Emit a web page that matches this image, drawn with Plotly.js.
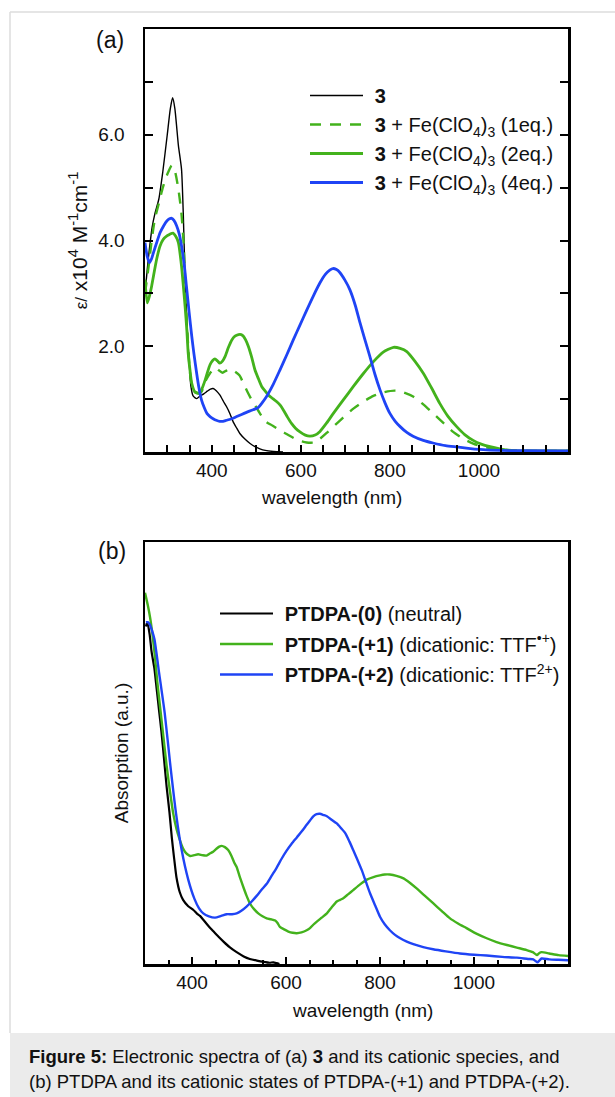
<!DOCTYPE html>
<html>
<head>
<meta charset="utf-8">
<script src="https://cdn.plot.ly/plotly-3.0.1.min.js"></script>
<style>html,body{margin:0;padding:0;background:#fff;}#chart{width:615px;height:1097px;}</style>
</head>
<body>
<div id="chart"></div>
<script>
// ---------- Panel (a): compound 3 and Fe(ClO4)3 titration, epsilon / 10^4 M^-1 cm^-1 ----------
const a_black_x = [250,255,260,266,272,281,290,300,307,312,317,325,332,336,340,344,347,350,353,358,366,374,382,390,397,403,410,418,426,433,441,448,456,463,475,486,497,508,520,538,560];
const a_black_y = [3.0,3.45,3.85,4.25,4.5,4.78,5.3,6.0,6.5,6.7,6.5,5.8,5.35,4.5,3.3,2.5,2.0,1.6,1.25,1.06,1.01,1.06,1.10,1.15,1.19,1.20,1.16,1.08,0.96,0.86,0.72,0.57,0.45,0.35,0.24,0.16,0.10,0.06,0.03,0.01,0.0];

const a_eq1_x = [250,258,265,272,281,290,300,310,317,325,332,337,343,347,351,356,362,370,377,385,396,407,415,424,433,443,452,462,471,480,490,497,508,522,536,555,570,594,613,630,643,658,673,695,718,740,763,787,811,830,852,875,897,920,942,965,987,1010,1032,1060,1085,1120,1200];
const a_eq1_y = [3.0,3.5,4.0,4.4,4.7,5.0,5.25,5.42,5.32,4.97,4.5,3.9,2.6,2.0,1.5,1.22,1.13,1.11,1.14,1.33,1.49,1.6,1.55,1.5,1.54,1.57,1.52,1.45,1.30,1.14,0.98,0.89,0.73,0.57,0.50,0.40,0.33,0.22,0.18,0.18,0.25,0.36,0.48,0.65,0.82,0.95,1.06,1.13,1.16,1.13,1.05,0.90,0.73,0.55,0.38,0.25,0.16,0.10,0.06,0.04,0.03,0.02,0.02];

const a_eq2_x = [250,255,260,265,276,284,291,300,306,313,319,325,332,336,340,344,347,351,355,362,372,378,385,390,396,402,407,413,418,424,430,437,445,452,460,466,471,476,482,490,497,505,512,520,527,537,546,554,561,570,579,588,598,610,620,632,643,658,673,695,718,740,763,785,808,823,838,856,875,893,912,930,950,968,987,1005,1025,1047,1070,1100,1200];
const a_eq2_y = [3.26,2.82,2.95,3.14,3.64,3.9,4.02,4.09,4.12,4.14,4.08,3.96,3.52,3.15,2.76,2.3,1.87,1.55,1.30,1.14,1.11,1.2,1.36,1.5,1.65,1.73,1.76,1.72,1.68,1.72,1.81,1.97,2.12,2.19,2.22,2.22,2.19,2.12,2.0,1.78,1.55,1.38,1.24,1.15,1.08,1.01,0.95,0.88,0.79,0.66,0.54,0.45,0.38,0.32,0.30,0.32,0.39,0.55,0.73,0.98,1.24,1.48,1.71,1.89,1.98,1.96,1.90,1.72,1.49,1.22,0.92,0.68,0.48,0.33,0.22,0.15,0.10,0.06,0.03,0.02,0.02];

const a_eq4_x = [250,255,260,265,269,277,284,292,299,305,310,315,321,327,332,338,343,349,355,360,366,371,377,383,389,396,403,410,418,425,433,445,456,467,478,490,504,513,523,538,553,568,583,598,613,628,643,655,665,672,680,688,699,710,722,733,744,755,766,778,789,800,812,823,838,852,875,897,925,950,976,1002,1047,1100,1200];
const a_eq4_y = [3.96,3.7,3.58,3.66,3.77,3.98,4.15,4.28,4.37,4.41,4.42,4.38,4.28,4.12,3.90,3.55,3.14,2.65,2.19,1.85,1.49,1.22,0.98,0.84,0.73,0.67,0.63,0.60,0.58,0.58,0.60,0.63,0.67,0.71,0.75,0.79,0.84,0.93,1.05,1.28,1.55,1.83,2.12,2.40,2.68,2.95,3.20,3.36,3.44,3.47,3.45,3.39,3.25,3.07,2.78,2.44,2.12,1.81,1.48,1.17,0.93,0.73,0.58,0.48,0.37,0.30,0.22,0.17,0.12,0.095,0.07,0.05,0.03,0.025,0.02];

const a_names = ['<b>3</b>', '<b>3</b> + Fe(ClO<sub>4</sub>)<sub>3</sub> (1eq.)', '<b>3</b> + Fe(ClO<sub>4</sub>)<sub>3</sub> (2eq.)', '<b>3</b> + Fe(ClO<sub>4</sub>)<sub>3</sub> (4eq.)'];
const a_xticks = [300,350,400,450,500,550,600,650,700,750,800,850,900,950,1000,1050,1100,1150];
const a_xlabels = ['','','400','','','','600','','','','800','','','','1000','','',''];
const a_yticks = [1,2,3,4,5,6,7];
const a_ylabels = ['','2.0','','4.0','','6.0',''];
const a_xtitle = 'wavelength (nm)';
const a_ytitle = '<span style="font-size:17px">ε/</span> x10<sup>4</sup> M<sup>-1</sup>cm<sup>-1</sup>';

// ---------- Panel (b): PTDPA, absorption (a.u.) ----------
const b_neutral_x = [302,305,310,314,320,325,330,335,341,346,352,357,362,367,374,381,392,403,410,417,424,435,445,456,467,480,495,510,523,538,552,565,573,580,586];
const b_neutral_y = [0.80,0.81,0.78,0.74,0.70,0.65,0.60,0.55,0.48,0.42,0.36,0.30,0.25,0.205,0.17,0.152,0.137,0.128,0.12,0.114,0.105,0.09,0.078,0.065,0.053,0.04,0.028,0.018,0.012,0.008,0.005,0.003,0.004,0.002,0.0];

const b_plus1_x = [300,302,306,311,316,321,326,332,339,346,353,360,367,374,380,385,390,396,405,413,422,431,438,445,452,458,463,470,477,484,490,495,502,509,516,523,532,541,550,559,568,577,582,587,596,605,614,623,633,644,651,658,665,676,687,697,708,715,722,732,743,757,772,786,800,810,821,835,850,864,878,895,913,931,949,966,984,1005,1027,1048,1070,1091,1112,1125,1130,1134,1139,1144,1160,1180,1200];
const b_plus1_y = [0.88,0.87,0.85,0.82,0.78,0.73,0.67,0.61,0.54,0.47,0.41,0.357,0.32,0.294,0.276,0.266,0.26,0.256,0.258,0.26,0.258,0.257,0.262,0.266,0.273,0.278,0.28,0.277,0.27,0.256,0.24,0.23,0.205,0.183,0.162,0.144,0.13,0.12,0.113,0.108,0.106,0.103,0.097,0.088,0.082,0.077,0.074,0.073,0.075,0.08,0.085,0.093,0.10,0.11,0.12,0.134,0.148,0.152,0.156,0.165,0.175,0.188,0.20,0.206,0.21,0.212,0.212,0.209,0.203,0.192,0.179,0.162,0.144,0.126,0.108,0.096,0.085,0.072,0.061,0.052,0.045,0.039,0.033,0.028,0.024,0.021,0.026,0.028,0.025,0.021,0.019];

const b_plus2_x = [302,306,310,315,320,330,342,354,366,378,392,405,415,424,436,449,462,474,485,495,505,516,527,538,548,559,570,580,591,601,612,623,634,644,651,658,665,672,680,687,697,708,717,726,735,743,752,761,770,779,790,800,810,821,832,843,857,871,892,913,940,970,1000,1027,1060,1091,1115,1126,1131,1135,1139,1144,1160,1180,1200];
const b_plus2_y = [0.81,0.81,0.805,0.79,0.77,0.69,0.594,0.47,0.357,0.27,0.20,0.155,0.132,0.12,0.113,0.11,0.114,0.118,0.118,0.12,0.126,0.136,0.148,0.162,0.176,0.19,0.21,0.228,0.25,0.268,0.285,0.30,0.315,0.33,0.34,0.35,0.355,0.356,0.353,0.35,0.342,0.333,0.322,0.31,0.29,0.27,0.247,0.223,0.195,0.167,0.138,0.112,0.094,0.08,0.069,0.061,0.053,0.047,0.04,0.035,0.03,0.025,0.022,0.02,0.017,0.015,0.012,0.011,0.007,0.004,0.008,0.013,0.011,0.01,0.009];

const b_names = ['<b>PTDPA-(0)</b> (neutral)', '<b>PTDPA-(+1)</b> (dicationic: TTF<sup>•+</sup>)', '<b>PTDPA-(+2)</b> (dicationic: TTF<sup>2+</sup>)'];
const b_xmajor = [400,600,800,1000];
const b_xtitle = 'wavelength (nm)';
const b_ytitle = 'Absorption (a.u.)';

const captionLine1 = '<b>Figure 5:</b> Electronic spectra of (a) <b>3</b> and its cationic species, and';
const captionLine2 = '(b) PTDPA and its cationic states of PTDPA-(+1) and PTDPA-(+2).';

// ---------- styling ----------
const W = 615, H = 1097;
const px = v => v / W;
const py = v => 1 - v / H;
const FONT = 'Liberation Sans, Arial, Helvetica, sans-serif';
const BLACK = '#000000', GREEN = '#43b21c', BLUE = '#1f44f5';
const GAP = '\u2004';

const traces = [
  {x:a_black_x, y:a_black_y, name:GAP + a_names[0], line:{color:BLACK, width:1.4}, legendgroup:'a1'},
  {x:a_eq1_x, y:a_eq1_y, name:GAP + a_names[1], line:{color:GREEN, width:2.4, dash:'11px,9px'}, legendgroup:'a2'},
  {x:a_eq2_x, y:a_eq2_y, name:GAP + a_names[2], line:{color:GREEN, width:2.8}, legendgroup:'a3'},
  {x:a_eq4_x, y:a_eq4_y, name:GAP + a_names[3], line:{color:BLUE, width:2.8}, legendgroup:'a4'},
  {x:b_neutral_x, y:b_neutral_y, name:GAP + b_names[0], xaxis:'x2', yaxis:'y2', legend:'legend2', line:{color:BLACK, width:2.2}, legendgroup:'b1'},
  {x:b_plus1_x, y:b_plus1_y, name:GAP + b_names[1], xaxis:'x2', yaxis:'y2', legend:'legend2', line:{color:GREEN, width:2.4}, legendgroup:'b2'},
  {x:b_plus2_x, y:b_plus2_y, name:GAP + b_names[2], xaxis:'x2', yaxis:'y2', legend:'legend2', line:{color:BLUE, width:2.4}, legendgroup:'b3'}
].map(t => Object.assign({type:'scatter', mode:'lines', hoverinfo:'skip'}, t, {line:Object.assign({shape:'spline', smoothing:0.6}, t.line)}));

const fnt = (s) => ({family:FONT, size:s || 19, color:'#111'});
const axisCommon = () => ({
  showgrid:false, zeroline:false, showline:true, linecolor:BLACK, linewidth:2.5,
  ticks:'inside', tickcolor:BLACK, tickwidth:2, tickfont:fnt(19),
  fixedrange:true
});
const xDomain = [px(145), px(568)];

const layout = {
  width:W, height:H, margin:{l:0, r:0, t:0, b:0},
  paper_bgcolor:'#ffffff', plot_bgcolor:'#ffffff',
  font:fnt(19),
  showlegend:true,
  xaxis: Object.assign(axisCommon(), {
    domain:xDomain, anchor:'y', range:[250,1200], mirror:true,
    tickmode:'array', tickvals:a_xticks, ticktext:a_xlabels, ticklen:7
  }),
  yaxis: Object.assign(axisCommon(), {
    domain:[py(452), py(29)], anchor:'x', range:[0,8], mirror:'ticks',
    tickmode:'array', tickvals:a_yticks, ticktext:a_ylabels, ticklen:8, ticklabelstandoff:14,
    title:{text:a_ytitle, font:fnt(21), standoff:5}
  }),
  xaxis2: Object.assign(axisCommon(), {
    domain:xDomain, anchor:'y2', range:[300,1200], mirror:true,
    tickmode:'array', tickvals:b_xmajor, ticktext:b_xmajor.map(String), ticklen:7,
    minor:{dtick:50, tick0:0, ticks:'inside', ticklen:4, tickwidth:2, tickcolor:BLACK}
  }),
  yaxis2: Object.assign(axisCommon(), {
    domain:[py(964), py(542)], anchor:'x2', range:[0,1], mirror:true,
    ticks:'', showticklabels:false,
    title:{text:b_ytitle, font:fnt(19), standoff:9}
  }),
  legend:{
    x:px(305), y:py(76), xanchor:'left', yanchor:'top', bgcolor:'rgba(0,0,0,0)',
    font:fnt(20), itemwidth:53, tracegroupgap:0, traceorder:'grouped',
    itemclick:false, itemdoubleclick:false
  },
  legend2:{
    x:px(215), y:py(594), xanchor:'left', yanchor:'top', bgcolor:'rgba(0,0,0,0)',
    font:fnt(20), itemwidth:53, tracegroupgap:1.5, traceorder:'grouped',
    itemclick:false, itemdoubleclick:false
  },
  shapes:[
    {type:'rect', xref:'paper', yref:'paper', x0:px(10), x1:1, y0:0, y1:py(1033), fillcolor:'#ebebeb', line:{width:0}, layer:'below'},
    {type:'line', xref:'paper', yref:'paper', x0:px(10), x1:1, y0:py(12), y1:py(12), line:{color:'#dcdcdc', width:1.5}},
    {type:'line', xref:'paper', yref:'paper', x0:px(10), x1:px(10), y0:py(12), y1:py(1033), line:{color:'#dcdcdc', width:1.5}}
  ],
  annotations:[
    {text:a_xtitle, xref:'paper', yref:'paper', x:px(331.5), y:py(497), xanchor:'center', yanchor:'middle', showarrow:false, font:fnt(19)},
    {text:b_xtitle, xref:'paper', yref:'paper', x:px(362.5), y:py(1010), xanchor:'center', yanchor:'middle', showarrow:false, font:fnt(19)},
    {text:'(a)', xref:'paper', yref:'paper', x:px(110), y:py(40), xanchor:'center', yanchor:'middle', showarrow:false, font:fnt(23)},
    {text:'(b)', xref:'paper', yref:'paper', x:px(112), y:py(551), xanchor:'center', yanchor:'middle', showarrow:false, font:fnt(23)},
    {text:captionLine1, xref:'paper', yref:'paper', x:px(27), y:py(1056), xanchor:'left', yanchor:'middle', showarrow:false, font:fnt(18.5)},
    {text:captionLine2, xref:'paper', yref:'paper', x:px(27), y:py(1081), xanchor:'left', yanchor:'middle', showarrow:false, font:fnt(18.5)}
  ]
};

Plotly.newPlot('chart', traces, layout, {staticPlot:true, displayModeBar:false});
</script>
</body>
</html>
